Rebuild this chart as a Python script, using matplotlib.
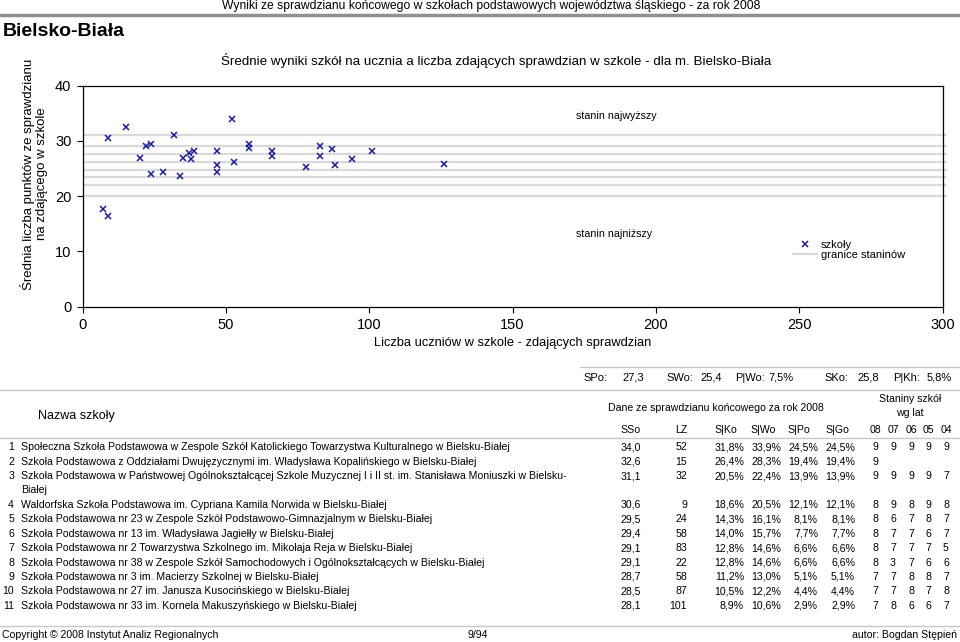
import matplotlib
matplotlib.use("Agg")
import matplotlib.pyplot as plt
from matplotlib.lines import Line2D

plt.rcParams['font.family'] = ['Liberation Sans', 'DejaVu Sans']

# ---------------- data ----------------
uczniowie = [7, 9, 9, 15, 20, 22, 24, 24, 28, 32, 34, 35, 37, 38, 39, 47, 47, 47,
             52, 53, 58, 58, 66, 66, 78, 83, 83, 87, 88, 94, 101, 126]
wyniki = [17.7, 16.5, 30.6, 32.6, 27.0, 29.1, 29.5, 24.1, 24.4, 31.1, 23.7, 26.9,
          27.9, 26.7, 28.1, 28.1, 25.6, 24.4, 34.0, 26.1, 29.4, 28.7, 28.1, 27.3,
          25.2, 29.1, 27.3, 28.5, 25.6, 26.8, 28.1, 25.9]
granice_staninow = [31.0, 29.1, 27.6, 26.1, 24.8, 23.4, 22.0, 20.1]
x_ticks = [0, 50, 100, 150, 200, 250, 300]
y_ticks = [0, 10, 20, 30, 40]

summary_labels = ["SPo:", "SWo:", "P|Wo:", "SKo:", "P|Kh:"]
summary_values = ["27,3", "25,4", "7,5%", "25,8", "5,8%"]

szkoly = [
    "Społeczna Szkoła Podstawowa w Zespole Szkół Katolickiego Towarzystwa Kulturalnego w Bielsku-Białej",
    "Szkoła Podstawowa z Oddziałami Dwujęzycznymi im. Władysława Kopalińskiego w Bielsku-Białej",
    "Szkoła Podstawowa w Państwowej Ogólnokształcącej Szkole Muzycznej I i II st. im. Stanisława Moniuszki w Bielsku-\nBiałej",
    "Waldorfska Szkoła Podstawowa im. Cypriana Kamila Norwida w Bielsku-Białej",
    "Szkoła Podstawowa nr 23 w Zespole Szkół Podstawowo-Gimnazjalnym w Bielsku-Białej",
    "Szkoła Podstawowa nr 13 im. Władysława Jagiełły w Bielsku-Białej",
    "Szkoła Podstawowa nr 2 Towarzystwa Szkolnego im. Mikołaja Reja w Bielsku-Białej",
    "Szkoła Podstawowa nr 38 w Zespole Szkół Samochodowych i Ogólnokształcących w Bielsku-Białej",
    "Szkoła Podstawowa nr 3 im. Macierzy Szkolnej w Bielsku-Białej",
    "Szkoła Podstawowa nr 27 im. Janusza Kusocińskiego w Bielsku-Białej",
    "Szkoła Podstawowa nr 33 im. Kornela Makuszyńskiego w Bielsku-Białej",
]
sso = ["34,0", "32,6", "31,1", "30,6", "29,5", "29,4", "29,1", "29,1", "28,7", "28,5", "28,1"]
lz = ["52", "15", "32", "9", "24", "58", "83", "22", "58", "87", "101"]
s_ko = ["31,8%", "26,4%", "20,5%", "18,6%", "14,3%", "14,0%", "12,8%", "12,8%", "11,2%", "10,5%", "8,9%"]
s_wo = ["33,9%", "28,3%", "22,4%", "20,5%", "16,1%", "15,7%", "14,6%", "14,6%", "13,0%", "12,2%", "10,6%"]
s_po = ["24,5%", "19,4%", "13,9%", "12,1%", "8,1%", "7,7%", "6,6%", "6,6%", "5,1%", "4,4%", "2,9%"]
s_go = ["24,5%", "19,4%", "13,9%", "12,1%", "8,1%", "7,7%", "6,6%", "6,6%", "5,1%", "4,4%", "2,9%"]
staniny = [
    ["9", "9", "9", "9", "9"],
    ["9", "", "", "", ""],
    ["9", "9", "9", "9", "7"],
    ["8", "9", "8", "9", "8"],
    ["8", "6", "7", "8", "7"],
    ["8", "7", "7", "6", "7"],
    ["8", "7", "7", "7", "5"],
    ["8", "3", "7", "6", "6"],
    ["7", "7", "8", "8", "7"],
    ["7", "7", "8", "7", "8"],
    ["7", "8", "6", "6", "7"],
]
lata = ["08", "07", "06", "05", "04"]

# ---------------- figure ----------------
W, H = 960, 642
fig = plt.figure(figsize=(W / 100, H / 100), dpi=100)


def fx(px):
    return px / W


def fy(py):
    return 1 - py / H


def text(x, y, s, **kw):
    kw.setdefault('va', 'center')
    kw.setdefault('fontsize', 7.6)
    fig.text(fx(x), fy(y), s, **kw)


def hline(y, x0, x1, color='#c8c8c8', lw=1.0):
    fig.add_artist(Line2D([fx(x0), fx(x1)], [fy(y), fy(y)], color=color, lw=lw,
                          transform=fig.transFigure))


# header
text(491, 6.5, "Wyniki ze sprawdzianu końcowego w szkołach podstawowych województwa śląskiego - za rok 2008",
     ha='center', fontsize=8.7)
hline(14.5, 0, 960, color='#909090', lw=2.5)
text(3, 31, "Bielsko-Biała", ha='left', fontsize=14, fontweight='bold')
text(496, 61, "Średnie wyniki szkół na ucznia a liczba zdających sprawdzian w szkole - dla m. Bielsko-Biała",
     ha='center', fontsize=9.6)

# ---------------- scatter ----------------
left, right, top, bottom = 82.5, 942.5, 85.7, 306.7
ax = fig.add_axes([fx(left), fy(bottom), fx(right - left), (bottom - top) / H])
ax.set_xlim(0, 300)
ax.set_ylim(0, 40)
ax.hlines(granice_staninow, 0, 301.5, colors='#d9d9d9', lw=1.6, clip_on=False, zorder=1)
ax.plot(uczniowie, wyniki, ls='none', marker='x', color='#1a1aa8', ms=4.5, mew=1.1, zorder=3)
ax.set_xticks(x_ticks)
ax.set_yticks(y_ticks)
ax.tick_params(direction='out', length=4, width=0.8, labelsize=10.5, pad=4)
for sp in ax.spines.values():
    sp.set_linewidth(0.9)
ax.set_xlabel("Liczba uczniów w szkole - zdających sprawdzian", fontsize=9.3, labelpad=4)
ax.text(172, 34.6, "stanin najwyższy", fontsize=7.7, ha='left', va='center')
ax.text(172, 13.1, "stanin najniższy", fontsize=7.7, ha='left', va='center')

handles = [Line2D([], [], ls='none', marker='x', color='#1a1aa8', ms=4.5, mew=1.1),
           Line2D([], [], color='#d9d9d9', lw=1.6)]
ax.legend(handles, ['szkoły', 'granice staninów'], loc='center left',
          bbox_to_anchor=(fx(793), fy(250)), bbox_transform=fig.transFigure,
          frameon=False, fontsize=8, handlelength=2.2, handletextpad=0.3,
          labelspacing=0.0, borderpad=0, borderaxespad=0)

text(34, 174, "Średnia liczba punktów ze sprawdzianu\nna zdającego w szkole", ha='center',
     rotation=90, fontsize=9.5, linespacing=1.2)

# ---------------- summary row ----------------
hline(367, 580, 960)
sum_lab_x = [583, 666, 735, 824, 893]
sum_val_x = [622, 700, 768, 857, 952]
for i, (l, v) in enumerate(zip(summary_labels, summary_values)):
    text(sum_lab_x[i], 378, l, ha='left', fontsize=8)
    if i == len(summary_labels) - 1:
        text(sum_val_x[i], 378, v, ha='right', fontsize=8)
    else:
        text(sum_val_x[i], 378, v, ha='left', fontsize=8)
hline(390, 0, 960)

# ---------------- table header ----------------
text(38, 416, "Nazwa szkoły", ha='left', fontsize=9)
text(716, 408, "Dane ze sprawdzianu końcowego za rok 2008", ha='center')
text(910, 399, "Staniny szkół", ha='center')
text(910, 413, "wg lat", ha='center')
col_x = {'sso': 631, 'lz': 687, 'ko': 726, 'wo': 763, 'po': 799, 'go': 837}
text(col_x['sso'], 430, "SSo", ha='center')
text(col_x['lz'], 430, "LZ", ha='right')
text(col_x['ko'], 430, "S|Ko", ha='center')
text(col_x['wo'], 430, "S|Wo", ha='center')
text(col_x['po'], 430, "S|Po", ha='center')
text(col_x['go'], 430, "S|Go", ha='center')
stan_x = [875, 893, 911, 928.5, 946]
for xx, l in zip(stan_x, lata):
    text(xx, 430, l, ha='center')
hline(438, 0, 960)

# ---------------- table rows ----------------
y = 447.5
for i in range(len(szkoly)):
    lines = szkoly[i].split('\n')
    text(14, y, str(i + 1), ha='right')
    for k, ln in enumerate(lines):
        text(21, y + k * 13.5, ln, ha='left')
    text(col_x['sso'], y, sso[i], ha='center')
    text(col_x['lz'], y, lz[i], ha='right')
    text(744, y, s_ko[i], ha='right')
    text(781, y, s_wo[i], ha='right')
    text(818, y, s_po[i], ha='right')
    text(855, y, s_go[i], ha='right')
    for xx, v in zip(stan_x, staniny[i]):
        text(xx, y, v, ha='center')
    y += 14.4 if len(lines) == 1 else 28.7

# ---------------- footer ----------------
hline(626, 0, 960)
text(2, 635, "Copyright © 2008 Instytut Analiz Regionalnych", ha='left')
text(478, 635, "9/94", ha='center')
text(957, 635, "autor: Bogdan Stępień", ha='right')

fig.savefig("out.png", dpi=100)
